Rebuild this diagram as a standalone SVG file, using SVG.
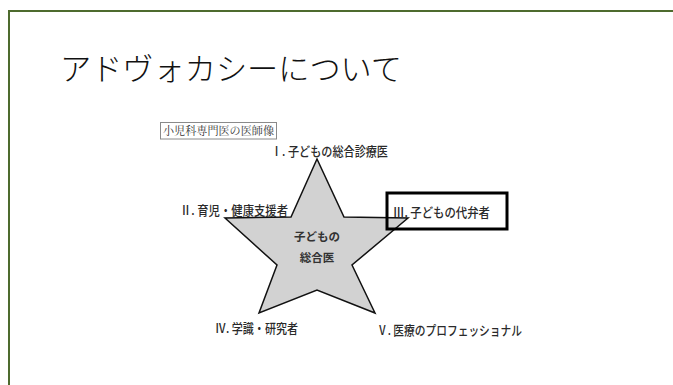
<svg xmlns="http://www.w3.org/2000/svg" width="673" height="385" viewBox="0 0 673 385">
  <style>
    .lbl { font-family: "Noto Sans CJK JP", "Noto Sans", sans-serif; font-size: 13px; font-weight: 500; fill: #2a2a2a; }
    .ctr { font-family: "Noto Sans CJK JP", "Noto Sans", sans-serif; font-size: 11.5px; font-weight: bold; fill: #333333; text-anchor: middle; }
    .title { font-family: "Noto Sans CJK JP", "Noto Sans", sans-serif; font-size: 31px; font-weight: 300; fill: #111111; }
    .cap { font-family: "Noto Serif CJK JP", "Noto Sans CJK JP", serif; font-size: 11px; fill: #333333; }
  </style>
  <rect x="0" y="0" width="673" height="385" fill="#ffffff"/>
  <rect id="frame" x="9" y="11" width="720" height="420" fill="none" stroke="#4e6b2e" stroke-width="2"/>
  <g id="title">
    <text class="title" x="60" y="80" textLength="342" lengthAdjust="spacingAndGlyphs">アドヴォカシーについて</text>
  </g>
  <g id="caption">
    <rect x="160.5" y="122.5" width="116" height="16.5" fill="#ffffff" stroke="#8a8a8a" stroke-width="1"/>
    <text class="cap" x="163" y="135" textLength="111" lengthAdjust="spacingAndGlyphs">小児科専門医の医師像</text>
  </g>
  <g id="star">
    <polygon points="317,159 344,217 408,218 352,265 375,313 317,290 259,313 277,265 225,218 291,217" fill="#d2d2d2" stroke="#111111" stroke-width="1.5" stroke-linejoin="miter"/>
    <text class="ctr" x="317" y="241">子どもの</text>
    <text class="ctr" x="317" y="262">総合医</text>
  </g>
  <g id="node-1">
    <text class="lbl" x="271" y="156" textLength="117" lengthAdjust="spacingAndGlyphs">Ⅰ. 子どもの総合診療医</text>
  </g>
  <g id="node-2">
    <text class="lbl" x="180" y="215" textLength="108" lengthAdjust="spacingAndGlyphs">Ⅱ. 育児・健康支援者</text>
  </g>
  <g id="node-3">
    <rect x="387" y="193" width="120" height="36" fill="none" stroke="#000000" stroke-width="3"/>
    <text class="lbl" x="393" y="217" textLength="97" lengthAdjust="spacingAndGlyphs">Ⅲ. 子どもの代弁者</text>
  </g>
  <g id="node-4">
    <text class="lbl" x="215" y="333" textLength="83" lengthAdjust="spacingAndGlyphs">Ⅳ. 学識・研究者</text>
  </g>
  <g id="node-5">
    <text class="lbl" x="377" y="335" textLength="145" lengthAdjust="spacingAndGlyphs">Ⅴ. 医療のプロフェッショナル</text>
  </g>
  <g id="connectors"/>
</svg>
